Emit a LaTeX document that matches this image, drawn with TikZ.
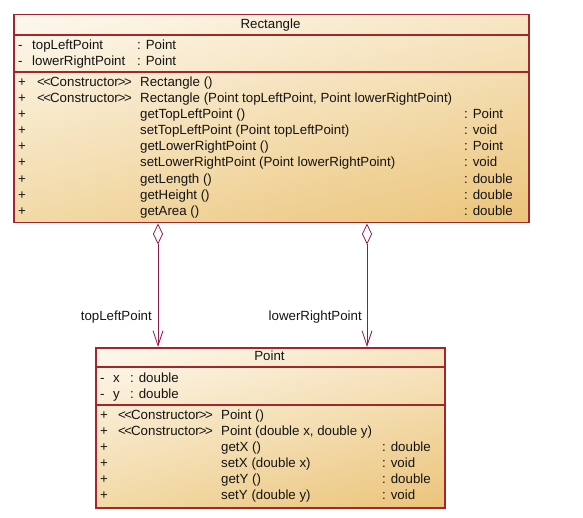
\documentclass[tikz,border=0pt]{standalone}
\usepackage{fontspec}
\setmainfont{Liberation Sans}
\usetikzlibrary{arrows.meta,shadings}
\definecolor{rahmen}{HTML}{A3262B}
\definecolor{verb}{HTML}{8E1B4E}
\definecolor{cremeA}{HTML}{FDF8EE}
\definecolor{cremeB}{HTML}{F7E6C4}
\definecolor{cremeC}{HTML}{F2D9A6}
\definecolor{cremeD}{HTML}{EBC47A}
\definecolor{schrift}{HTML}{141414}
\newcommand{\kon}{<\kern-1.6pt<\kern-1pt Constructor\kern-1pt>\kern-1.6pt>}
\tikzset{
  klasse/.style={draw=rahmen,line width=1.5pt,anchor=north west,inner sep=0pt,
    upper left=cremeA,upper right=cremeB,lower left=cremeC,lower right=cremeD},
  trenn/.style={rahmen,line width=1.1pt},
  txt/.style={anchor=base west,inner sep=0pt,text=schrift,font=\fontsize{13.3}{15}\selectfont},
  kopf/.style={txt,anchor=base},
  agg/.style={verb,line width=0.8pt,
    {Diamond[open,length=21pt,width=10pt,line width=0.8pt]}-{Straight Barb[length=15pt,width=10pt,line width=0.8pt]}},
}

\begin{document}
\begin{tikzpicture}[x=1pt,y=-1pt]
  \useasboundingbox (0,0) rectangle (583,518);
  % class Rectangle
  \node[klasse,minimum width=515pt,minimum height=208pt] (rect) at (13,14) {};
  \draw[trenn] (rect.west |- 0,35) -- (rect.east |- 0,35);
  \draw[trenn] (rect.west |- 0,72) -- (rect.east |- 0,72);
  \node[kopf] (rectName) at (270.5,28.5) {Rectangle};
  \foreach \y/\n/\t [count=\i] in {45/topLeftPoint/: Point, 61/lowerRightPoint/: Point}{
    \node[txt] (rav\i) at (18,\y+4.5) {-};
    \node[txt] (ran\i) at (32,\y+4.5) {\n};
    \node[txt] (rat\i) at (137,\y+4.5) {\t};}
  \foreach \n/\t [count=\i from 0] in {
      {Rectangle ()}/, {Rectangle (Point topLeftPoint, Point lowerRightPoint)}/,
      getTopLeftPoint ()/: Point, setTopLeftPoint (Point topLeftPoint)/: void,
      getLowerRightPoint ()/: Point, setLowerRightPoint (Point lowerRightPoint)/: void,
      getLength ()/: double, getHeight ()/: double, getArea ()/: double}{
    \node[txt] (rmv\i) at (18,82+\i*16.1+4.5) {+};
    \node[txt] (rmn\i) at (140,82+\i*16.1+4.5) {\n};
    \node[txt] (rmt\i) at (464,82+\i*16.1+4.5) {\t};}
  \node[txt] (rk0) at (37,86.5) {\kon};
  \node[txt] (rk1) at (37,102.6) {\kon};

  % class Point
  \node[klasse,minimum width=349pt,minimum height=160pt] (point) at (95,347) {};
  \draw[trenn] (point.west |- 0,367) -- (point.east |- 0,367);
  \draw[trenn] (point.west |- 0,405) -- (point.east |- 0,405);
  \node[kopf] (pointName) at (269.5,360.5) {Point};
  \foreach \y/\n [count=\i] in {378/x, 394/y}{
    \node[txt] (pav\i) at (100,\y+4.5) {-};
    \node[txt] (pan\i) at (113,\y+4.5) {\n};
    \node[txt] (pat\i) at (130,\y+4.5) {: double};}
  \foreach \n/\t [count=\i from 0] in {
      Point ()/, {Point (double x, double y)}/,
      getX ()/: double, setX (double x)/: void,
      getY ()/: double, setY (double y)/: void}{
    \node[txt] (pmv\i) at (100,415+\i*16+4.5) {+};
    \node[txt] (pmn\i) at (221,415+\i*16+4.5) {\n};
    \node[txt] (pmt\i) at (382,415+\i*16+4.5) {\t};}
  \node[txt] (pk0) at (118,419.5) {\kon};
  \node[txt] (pk1) at (118,435.5) {\kon};

  % aggregations
  \coordinate (tl) at (158,0);
  \coordinate (lr) at (367,0);
  \draw[agg] (rect.south -| tl) -- (point.north -| tl);
  \draw[agg] (rect.south -| lr) -- (point.north -| lr);
  \node[txt,anchor=base east] (tlName) at (152,320.5) {topLeftPoint};
  \node[txt,anchor=base east] (lrName) at (362,320.5) {lowerRightPoint};
\end{tikzpicture}
\end{document}
